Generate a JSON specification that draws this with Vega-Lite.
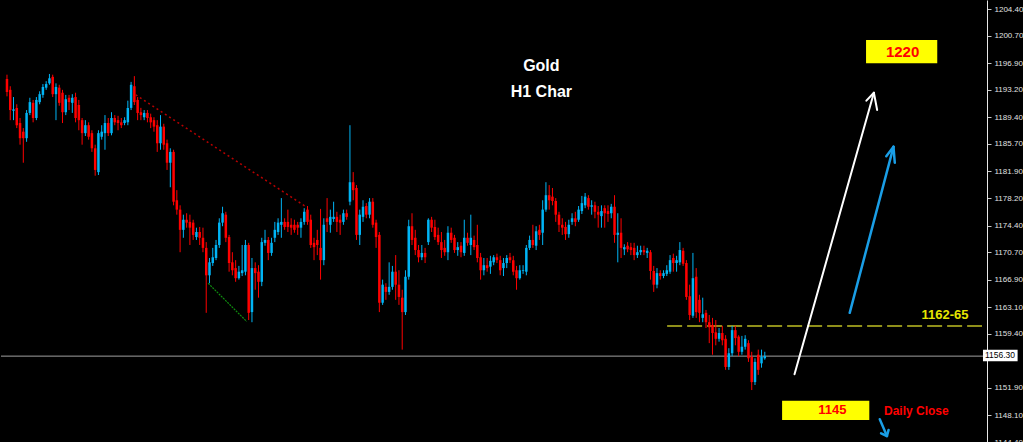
{
"$schema":"https://vega.github.io/schema/vega-lite/v6.json",
"background":"#000000",
"padding":0,
"autosize":{"type":"pad"},
"width":986,
"height":442,
"config":{"view":{"stroke":null},"axis":{"labelOverlap":false,"labelFlush":false,"labelBound":false}},
"datasets":{
"candles":[
{"t":0,"o":1194.7,"h":1195.3,"l":1192.3,"c":1192.9},
{"t":1,"o":1193.2,"h":1193.7,"l":1189.0,"c":1190.4},
{"t":2,"o":1190.3,"h":1192.2,"l":1189.0,"c":1190.5},
{"t":3,"o":1190.7,"h":1191.2,"l":1187.9,"c":1188.3},
{"t":4,"o":1188.6,"h":1189.3,"l":1185.6,"c":1186.5},
{"t":5,"o":1187.4,"h":1187.9,"l":1183.1,"c":1186.5},
{"t":6,"o":1186.5,"h":1190.4,"l":1186.0,"c":1190.0},
{"t":7,"o":1190.0,"h":1192.1,"l":1189.7,"c":1191.5},
{"t":8,"o":1191.4,"h":1191.8,"l":1188.7,"c":1189.3},
{"t":9,"o":1189.3,"h":1192.2,"l":1189.0,"c":1191.8},
{"t":10,"o":1191.5,"h":1193.0,"l":1191.2,"c":1192.6},
{"t":11,"o":1192.5,"h":1194.0,"l":1192.1,"c":1193.6},
{"t":12,"o":1193.5,"h":1194.4,"l":1193.2,"c":1194.0},
{"t":13,"o":1194.1,"h":1195.4,"l":1193.9,"c":1194.8},
{"t":14,"o":1195.0,"h":1195.3,"l":1192.2,"c":1192.6},
{"t":15,"o":1192.6,"h":1194.1,"l":1189.0,"c":1193.6},
{"t":16,"o":1193.5,"h":1193.9,"l":1191.0,"c":1191.4},
{"t":17,"o":1192.8,"h":1193.2,"l":1188.6,"c":1190.1},
{"t":18,"o":1190.1,"h":1192.5,"l":1189.7,"c":1191.9},
{"t":19,"o":1192.1,"h":1192.5,"l":1190.4,"c":1191.5},
{"t":20,"o":1191.4,"h":1192.6,"l":1190.0,"c":1192.1},
{"t":21,"o":1192.2,"h":1192.8,"l":1188.7,"c":1189.3},
{"t":22,"o":1191.1,"h":1191.8,"l":1187.6,"c":1189.0},
{"t":23,"o":1189.0,"h":1189.3,"l":1185.6,"c":1187.2},
{"t":24,"o":1187.2,"h":1189.0,"l":1186.8,"c":1188.3},
{"t":25,"o":1188.3,"h":1188.7,"l":1186.3,"c":1186.7},
{"t":26,"o":1187.2,"h":1187.6,"l":1184.6,"c":1185.1},
{"t":27,"o":1185.1,"h":1185.6,"l":1181.3,"c":1182.1},
{"t":28,"o":1181.8,"h":1187.6,"l":1181.4,"c":1187.2},
{"t":29,"o":1186.7,"h":1188.3,"l":1186.3,"c":1187.4},
{"t":30,"o":1187.2,"h":1189.7,"l":1184.9,"c":1188.6},
{"t":31,"o":1188.6,"h":1189.3,"l":1186.8,"c":1187.2},
{"t":32,"o":1187.2,"h":1190.1,"l":1186.9,"c":1189.3},
{"t":33,"o":1189.3,"h":1189.7,"l":1188.3,"c":1188.7},
{"t":34,"o":1189.0,"h":1189.6,"l":1187.6,"c":1188.6},
{"t":35,"o":1188.7,"h":1189.3,"l":1187.9,"c":1188.3},
{"t":36,"o":1188.6,"h":1189.4,"l":1188.3,"c":1189.0},
{"t":37,"o":1188.7,"h":1191.7,"l":1188.3,"c":1190.7},
{"t":38,"o":1190.7,"h":1194.3,"l":1190.4,"c":1193.9},
{"t":39,"o":1193.7,"h":1195.1,"l":1191.1,"c":1191.5},
{"t":40,"o":1191.8,"h":1192.2,"l":1189.0,"c":1190.0},
{"t":41,"o":1190.1,"h":1190.7,"l":1189.0,"c":1189.7},
{"t":42,"o":1189.4,"h":1190.4,"l":1189.0,"c":1190.0},
{"t":43,"o":1190.0,"h":1190.4,"l":1188.7,"c":1189.3},
{"t":44,"o":1189.4,"h":1189.9,"l":1187.9,"c":1188.7},
{"t":45,"o":1189.0,"h":1189.4,"l":1187.4,"c":1188.1},
{"t":46,"o":1188.3,"h":1189.0,"l":1184.6,"c":1185.8},
{"t":47,"o":1185.8,"h":1189.7,"l":1184.9,"c":1188.1},
{"t":48,"o":1188.1,"h":1188.5,"l":1184.9,"c":1185.6},
{"t":49,"o":1185.8,"h":1186.3,"l":1182.1,"c":1183.1},
{"t":50,"o":1183.1,"h":1185.1,"l":1179.7,"c":1184.6},
{"t":51,"o":1184.6,"h":1184.9,"l":1177.2,"c":1177.7},
{"t":52,"o":1177.9,"h":1179.3,"l":1175.9,"c":1176.6},
{"t":53,"o":1176.6,"h":1177.2,"l":1170.7,"c":1173.8},
{"t":54,"o":1173.8,"h":1175.9,"l":1172.7,"c":1175.2},
{"t":55,"o":1175.2,"h":1176.1,"l":1174.1,"c":1174.8},
{"t":56,"o":1174.9,"h":1175.9,"l":1171.7,"c":1174.1},
{"t":57,"o":1174.8,"h":1175.2,"l":1172.4,"c":1173.1},
{"t":58,"o":1172.8,"h":1174.1,"l":1172.4,"c":1173.5},
{"t":59,"o":1173.5,"h":1174.2,"l":1171.7,"c":1172.7},
{"t":60,"o":1172.7,"h":1174.1,"l":1170.7,"c":1171.3},
{"t":61,"o":1171.3,"h":1172.1,"l":1162.3,"c":1167.5},
{"t":62,"o":1167.5,"h":1169.9,"l":1166.4,"c":1169.3},
{"t":63,"o":1169.2,"h":1171.3,"l":1168.8,"c":1170.0},
{"t":64,"o":1169.9,"h":1172.4,"l":1169.6,"c":1171.7},
{"t":65,"o":1171.7,"h":1175.4,"l":1171.3,"c":1174.8},
{"t":66,"o":1174.8,"h":1177.0,"l":1174.3,"c":1176.1},
{"t":67,"o":1175.9,"h":1176.3,"l":1172.1,"c":1172.7},
{"t":68,"o":1172.8,"h":1173.1,"l":1168.0,"c":1169.2},
{"t":69,"o":1169.3,"h":1170.7,"l":1167.5,"c":1168.2},
{"t":70,"o":1168.5,"h":1169.6,"l":1166.6,"c":1167.1},
{"t":71,"o":1167.1,"h":1168.8,"l":1166.9,"c":1168.0},
{"t":72,"o":1167.8,"h":1171.7,"l":1167.4,"c":1168.2},
{"t":73,"o":1168.0,"h":1172.4,"l":1167.5,"c":1171.7},
{"t":74,"o":1171.7,"h":1172.0,"l":1161.3,"c":1162.3},
{"t":75,"o":1162.4,"h":1169.9,"l":1161.0,"c":1168.5},
{"t":76,"o":1168.5,"h":1169.3,"l":1165.5,"c":1167.8},
{"t":77,"o":1168.0,"h":1168.9,"l":1164.4,"c":1166.6},
{"t":78,"o":1166.6,"h":1172.7,"l":1166.0,"c":1172.1},
{"t":79,"o":1172.0,"h":1173.8,"l":1171.6,"c":1172.4},
{"t":80,"o":1172.4,"h":1172.8,"l":1169.6,"c":1170.6},
{"t":81,"o":1170.6,"h":1172.7,"l":1170.2,"c":1172.0},
{"t":82,"o":1172.7,"h":1174.9,"l":1172.1,"c":1173.8},
{"t":83,"o":1173.5,"h":1175.4,"l":1173.1,"c":1174.8},
{"t":84,"o":1174.5,"h":1178.2,"l":1172.7,"c":1174.9},
{"t":85,"o":1174.9,"h":1175.4,"l":1173.8,"c":1174.2},
{"t":86,"o":1174.9,"h":1176.6,"l":1173.5,"c":1174.2},
{"t":87,"o":1174.5,"h":1175.4,"l":1173.1,"c":1174.1},
{"t":88,"o":1174.5,"h":1175.2,"l":1173.4,"c":1173.8},
{"t":89,"o":1174.5,"h":1174.9,"l":1173.1,"c":1174.1},
{"t":90,"o":1174.1,"h":1175.4,"l":1172.7,"c":1174.9},
{"t":91,"o":1174.9,"h":1176.8,"l":1174.5,"c":1176.3},
{"t":92,"o":1176.6,"h":1177.1,"l":1174.5,"c":1174.9},
{"t":93,"o":1175.2,"h":1175.9,"l":1171.3,"c":1171.7},
{"t":94,"o":1172.0,"h":1172.7,"l":1169.6,"c":1171.4},
{"t":95,"o":1172.4,"h":1173.8,"l":1170.3,"c":1171.7},
{"t":96,"o":1171.3,"h":1176.7,"l":1166.9,"c":1169.6},
{"t":97,"o":1169.6,"h":1175.4,"l":1168.9,"c":1174.5},
{"t":98,"o":1175.4,"h":1178.2,"l":1173.5,"c":1174.9},
{"t":99,"o":1174.5,"h":1176.6,"l":1173.4,"c":1175.6},
{"t":100,"o":1175.3,"h":1177.7,"l":1174.9,"c":1175.6},
{"t":101,"o":1175.6,"h":1176.3,"l":1173.5,"c":1174.9},
{"t":102,"o":1175.2,"h":1175.9,"l":1173.1,"c":1174.8},
{"t":103,"o":1174.9,"h":1176.6,"l":1174.5,"c":1176.1},
{"t":104,"o":1176.1,"h":1176.6,"l":1175.2,"c":1175.6},
{"t":105,"o":1177.7,"h":1188.3,"l":1177.2,"c":1180.4},
{"t":106,"o":1180.4,"h":1181.8,"l":1177.9,"c":1179.3},
{"t":107,"o":1179.6,"h":1180.0,"l":1172.4,"c":1173.1},
{"t":108,"o":1173.1,"h":1176.6,"l":1171.7,"c":1175.9},
{"t":109,"o":1175.6,"h":1177.9,"l":1174.9,"c":1177.0},
{"t":110,"o":1177.1,"h":1177.5,"l":1175.4,"c":1175.9},
{"t":111,"o":1175.9,"h":1178.2,"l":1175.4,"c":1177.7},
{"t":112,"o":1177.7,"h":1178.2,"l":1174.1,"c":1174.5},
{"t":113,"o":1174.8,"h":1175.2,"l":1171.3,"c":1172.8},
{"t":114,"o":1173.1,"h":1173.5,"l":1162.4,"c":1163.7},
{"t":115,"o":1163.7,"h":1166.9,"l":1163.4,"c":1166.2},
{"t":116,"o":1165.9,"h":1166.4,"l":1164.1,"c":1165.2},
{"t":117,"o":1165.2,"h":1169.3,"l":1164.8,"c":1165.9},
{"t":118,"o":1165.9,"h":1168.8,"l":1165.5,"c":1168.0},
{"t":119,"o":1168.0,"h":1170.3,"l":1164.1,"c":1166.2},
{"t":120,"o":1166.2,"h":1168.2,"l":1163.4,"c":1164.5},
{"t":121,"o":1164.4,"h":1165.5,"l":1157.2,"c":1162.4},
{"t":122,"o":1162.4,"h":1168.2,"l":1162.0,"c":1167.3},
{"t":123,"o":1167.3,"h":1175.2,"l":1166.9,"c":1174.3},
{"t":124,"o":1174.3,"h":1176.1,"l":1171.7,"c":1172.4},
{"t":125,"o":1172.7,"h":1173.8,"l":1170.3,"c":1171.0},
{"t":126,"o":1171.0,"h":1171.7,"l":1169.3,"c":1170.0},
{"t":127,"o":1170.0,"h":1171.7,"l":1169.6,"c":1170.6},
{"t":128,"o":1170.6,"h":1171.3,"l":1169.2,"c":1170.0},
{"t":129,"o":1172.1,"h":1175.4,"l":1171.7,"c":1175.2},
{"t":130,"o":1175.2,"h":1175.6,"l":1173.5,"c":1174.1},
{"t":131,"o":1174.2,"h":1175.2,"l":1172.4,"c":1172.8},
{"t":132,"o":1173.1,"h":1174.1,"l":1171.7,"c":1172.1},
{"t":133,"o":1172.1,"h":1173.5,"l":1169.9,"c":1171.0},
{"t":134,"o":1171.3,"h":1172.4,"l":1170.2,"c":1170.7},
{"t":135,"o":1170.7,"h":1174.3,"l":1169.6,"c":1173.4},
{"t":136,"o":1173.4,"h":1174.1,"l":1172.0,"c":1172.4},
{"t":137,"o":1172.7,"h":1173.1,"l":1170.6,"c":1171.0},
{"t":138,"o":1171.0,"h":1172.1,"l":1170.2,"c":1171.4},
{"t":139,"o":1171.6,"h":1172.1,"l":1170.0,"c":1170.7},
{"t":140,"o":1170.6,"h":1175.2,"l":1170.2,"c":1172.7},
{"t":141,"o":1172.7,"h":1173.4,"l":1171.6,"c":1172.0},
{"t":142,"o":1171.7,"h":1175.9,"l":1170.3,"c":1172.7},
{"t":143,"o":1172.4,"h":1173.0,"l":1171.0,"c":1171.4},
{"t":144,"o":1171.7,"h":1174.5,"l":1169.3,"c":1169.9},
{"t":145,"o":1170.0,"h":1170.6,"l":1166.9,"c":1168.2},
{"t":146,"o":1168.2,"h":1169.9,"l":1167.5,"c":1168.9},
{"t":147,"o":1168.9,"h":1169.9,"l":1168.0,"c":1168.5},
{"t":148,"o":1168.7,"h":1170.2,"l":1167.7,"c":1169.5},
{"t":149,"o":1169.3,"h":1170.3,"l":1168.9,"c":1170.0},
{"t":150,"o":1170.0,"h":1170.5,"l":1169.2,"c":1169.6},
{"t":151,"o":1169.6,"h":1170.2,"l":1167.5,"c":1168.2},
{"t":152,"o":1168.5,"h":1169.9,"l":1167.4,"c":1169.2},
{"t":153,"o":1169.2,"h":1170.3,"l":1168.5,"c":1169.9},
{"t":154,"o":1170.0,"h":1170.6,"l":1169.2,"c":1169.6},
{"t":155,"o":1169.6,"h":1170.2,"l":1167.5,"c":1168.0},
{"t":156,"o":1168.2,"h":1168.8,"l":1165.5,"c":1167.1},
{"t":157,"o":1167.1,"h":1168.9,"l":1166.9,"c":1168.2},
{"t":158,"o":1168.1,"h":1168.9,"l":1167.7,"c":1168.2},
{"t":159,"o":1168.0,"h":1171.7,"l":1167.5,"c":1171.3},
{"t":160,"o":1171.3,"h":1173.0,"l":1171.0,"c":1172.4},
{"t":161,"o":1172.4,"h":1174.5,"l":1171.3,"c":1171.7},
{"t":162,"o":1171.6,"h":1174.3,"l":1171.0,"c":1173.6},
{"t":163,"o":1173.8,"h":1174.5,"l":1172.4,"c":1173.1},
{"t":164,"o":1173.4,"h":1177.9,"l":1171.7,"c":1176.6},
{"t":165,"o":1176.6,"h":1180.4,"l":1176.3,"c":1178.6},
{"t":166,"o":1178.6,"h":1180.0,"l":1176.6,"c":1177.9},
{"t":167,"o":1178.4,"h":1179.6,"l":1177.2,"c":1177.8},
{"t":168,"o":1177.8,"h":1178.2,"l":1174.9,"c":1175.9},
{"t":169,"o":1175.9,"h":1176.3,"l":1173.5,"c":1174.5},
{"t":170,"o":1174.5,"h":1175.4,"l":1173.1,"c":1174.1},
{"t":171,"o":1174.2,"h":1174.9,"l":1172.4,"c":1173.2},
{"t":172,"o":1173.2,"h":1175.2,"l":1172.7,"c":1174.5},
{"t":173,"o":1174.9,"h":1176.1,"l":1174.5,"c":1175.4},
{"t":174,"o":1175.4,"h":1176.3,"l":1174.3,"c":1174.9},
{"t":175,"o":1175.2,"h":1177.1,"l":1174.9,"c":1176.6},
{"t":176,"o":1176.4,"h":1178.5,"l":1176.0,"c":1177.5},
{"t":177,"o":1177.2,"h":1178.9,"l":1176.8,"c":1178.4},
{"t":178,"o":1178.2,"h":1178.6,"l":1176.6,"c":1177.0},
{"t":179,"o":1177.0,"h":1177.9,"l":1175.9,"c":1177.2},
{"t":180,"o":1177.2,"h":1177.7,"l":1175.4,"c":1176.3},
{"t":181,"o":1176.3,"h":1177.1,"l":1174.1,"c":1175.9},
{"t":182,"o":1175.7,"h":1177.2,"l":1174.1,"c":1176.4},
{"t":183,"o":1176.8,"h":1177.2,"l":1174.1,"c":1176.1},
{"t":184,"o":1176.4,"h":1177.2,"l":1174.9,"c":1176.0},
{"t":185,"o":1176.1,"h":1177.4,"l":1175.4,"c":1177.0},
{"t":186,"o":1177.0,"h":1178.6,"l":1172.0,"c":1173.1},
{"t":187,"o":1173.1,"h":1176.1,"l":1169.3,"c":1173.4},
{"t":188,"o":1173.4,"h":1175.4,"l":1169.9,"c":1171.3},
{"t":189,"o":1171.1,"h":1171.8,"l":1170.3,"c":1171.4},
{"t":190,"o":1171.6,"h":1172.1,"l":1170.7,"c":1171.1},
{"t":191,"o":1171.4,"h":1172.0,"l":1170.3,"c":1171.0},
{"t":192,"o":1171.3,"h":1172.0,"l":1169.6,"c":1170.3},
{"t":193,"o":1170.3,"h":1171.6,"l":1169.9,"c":1170.7},
{"t":194,"o":1170.7,"h":1171.6,"l":1170.3,"c":1171.0},
{"t":195,"o":1171.0,"h":1171.6,"l":1170.3,"c":1170.7},
{"t":196,"o":1170.6,"h":1171.3,"l":1169.9,"c":1170.9},
{"t":197,"o":1170.7,"h":1171.0,"l":1166.9,"c":1168.1},
{"t":198,"o":1168.1,"h":1168.8,"l":1165.2,"c":1166.2},
{"t":199,"o":1166.2,"h":1168.5,"l":1165.7,"c":1167.8},
{"t":200,"o":1167.8,"h":1168.2,"l":1166.9,"c":1167.4},
{"t":201,"o":1167.4,"h":1168.2,"l":1167.1,"c":1167.8},
{"t":202,"o":1167.7,"h":1168.9,"l":1167.4,"c":1168.2},
{"t":203,"o":1168.0,"h":1170.3,"l":1167.7,"c":1169.6},
{"t":204,"o":1169.9,"h":1170.5,"l":1168.0,"c":1169.2},
{"t":205,"o":1169.2,"h":1170.2,"l":1168.0,"c":1169.6},
{"t":206,"o":1169.3,"h":1172.1,"l":1168.9,"c":1171.0},
{"t":207,"o":1170.9,"h":1171.3,"l":1168.8,"c":1169.1},
{"t":208,"o":1169.2,"h":1169.6,"l":1164.1,"c":1164.5},
{"t":209,"o":1164.6,"h":1166.2,"l":1161.3,"c":1162.0},
{"t":210,"o":1161.9,"h":1170.6,"l":1161.6,"c":1167.1},
{"t":211,"o":1167.3,"h":1168.5,"l":1161.6,"c":1162.4},
{"t":212,"o":1164.1,"h":1164.8,"l":1161.0,"c":1162.3},
{"t":213,"o":1161.6,"h":1164.4,"l":1161.0,"c":1162.1},
{"t":214,"o":1162.3,"h":1162.7,"l":1160.2,"c":1161.0},
{"t":215,"o":1161.0,"h":1162.0,"l":1158.1,"c":1160.3},
{"t":216,"o":1160.6,"h":1161.6,"l":1156.5,"c":1159.5},
{"t":217,"o":1159.6,"h":1161.3,"l":1157.8,"c":1158.7},
{"t":218,"o":1158.7,"h":1160.2,"l":1158.3,"c":1159.5},
{"t":219,"o":1159.5,"h":1160.5,"l":1157.8,"c":1158.5},
{"t":220,"o":1158.7,"h":1159.2,"l":1154.4,"c":1154.8},
{"t":221,"o":1154.8,"h":1157.4,"l":1154.4,"c":1156.7},
{"t":222,"o":1156.7,"h":1160.5,"l":1156.3,"c":1159.9},
{"t":223,"o":1159.9,"h":1160.5,"l":1157.8,"c":1158.8},
{"t":224,"o":1159.0,"h":1159.2,"l":1156.3,"c":1156.9},
{"t":225,"o":1156.9,"h":1159.1,"l":1156.5,"c":1157.6},
{"t":226,"o":1157.6,"h":1159.2,"l":1157.2,"c":1158.7},
{"t":227,"o":1158.1,"h":1158.5,"l":1155.5,"c":1156.0},
{"t":228,"o":1156.2,"h":1156.9,"l":1151.6,"c":1152.7},
{"t":229,"o":1152.7,"h":1156.0,"l":1152.3,"c":1155.5},
{"t":230,"o":1156.5,"h":1157.2,"l":1153.7,"c":1154.4},
{"t":231,"o":1155.3,"h":1157.2,"l":1154.7,"c":1156.2},
{"t":232,"o":1156.0,"h":1156.9,"l":1155.8,"c":1156.3}
],
"segs":[
{"k":"red","x":39.4,"y":1192.5,"x2":91.2,"y2":1177.1},
{"k":"green","x":61.6,"y":1166.4,"x2":73.4,"y2":1161.1},
{"k":"white","x":241.1,"y":1153.8,"x2":265.4,"y2":1192.8},
{"k":"white","x":263.1,"y":1191.7,"x2":265.4,"y2":1192.8},
{"k":"white","x":266.4,"y":1190.4,"x2":265.4,"y2":1192.8},
{"k":"blue","x":258.0,"y":1162.3,"x2":271.4,"y2":1185.3},
{"k":"blue","x":269.2,"y":1184.0,"x2":271.4,"y2":1185.3},
{"k":"blue","x":271.8,"y":1183.1,"x2":271.4,"y2":1185.3},
{"k":"blue","x":267.2,"y":1147.55,"x2":269.4,"y2":1145.23},
{"k":"blue","x":267.6,"y":1145.6,"x2":269.4,"y2":1145.23},
{"k":"blue","x":269.9,"y":1146.07,"x2":269.4,"y2":1145.23}
],
"boxes":[
{"id":"b1220","x":263.0,"x2":284.8,"y":1200.1,"y2":1196.9},
{"id":"b1145","x":237.3,"x2":264.0,"y":1150.1,"y2":1147.45},
{"id":"blast","x":298.8,"x2":309.4,"y":1157.2,"y2":1155.6}
],
"notes":[
{"id":"gold","label":"Gold","x":163.6,"y":1196.5},
{"id":"h1","label":"H1 Char","x":163.6,"y":1192.9},
{"id":"t1220","label":"1220","x":274.2,"y":1198.45},
{"id":"t1145","label":"1145","x":252.7,"y":1148.8},
{"id":"daily","label":"Daily Close","x":268.5,"y":1148.7},
{"id":"lvl","label":"1162-65","x":280.0,"y":1162.0},
{"id":"last","label":"1156.30","x":299.4,"y":1156.4}
]
},
"layer":[
{
"data":{"values":[{"p":1156.3}]},
"mark":{"type":"rule","color":"#a0a0a0","strokeWidth":1},
"encoding":{"y":{"field":"p","type":"quantitative","scale":{"domain":[1144.4,1205.65],"nice":false,"zero":false},
"axis":{"orient":"right","values":[1144.4,1148.1,1151.9,1159.4,1163.1,1166.9,1170.7,1174.4,1178.2,1181.9,1185.7,1189.4,1193.2,1196.9,1200.7,1204.4],"tickCount":30,"format":".2f","labelColor":"#e0e0e0","labelFont":"Liberation Sans","labelFontSize":8,"labelOverlap":false,"labelFlush":false,"tickColor":"#c8c8c8","tickSize":4,"domainColor":"#e8e8e8","grid":false,"title":null,"labelPadding":3}}}
},
{
"data":{"values":[{"x":202.1,"x2":298.5,"y":1160.48}]},
"mark":{"type":"rule","color":"#8f8f1a","strokeWidth":2,"strokeDash":[15,5]},
"encoding":{
"x":{"field":"x","type":"quantitative","scale":{"domain":[-0.3,298.5],"nice":false,"zero":false},"axis":null},
"x2":{"field":"x2"},
"y":{"field":"y","type":"quantitative","scale":{"domain":[1144.4,1205.65],"nice":false,"zero":false}}}
},
{
"data":{"name":"candles"},
"mark":{"type":"rule","strokeWidth":1},
"encoding":{
"x":{"field":"t","type":"quantitative","scale":{"domain":[-0.3,298.5],"nice":false,"zero":false},"axis":null},
"y":{"field":"l","type":"quantitative","scale":{"domain":[1144.4,1205.65],"nice":false,"zero":false}},
"y2":{"field":"h"},
"color":{"condition":{"test":"datum.c < datum.o","value":"#ff0000"},"value":"#00b4f5"}}
},
{
"data":{"name":"candles"},
"mark":{"type":"bar","size":2.5},
"encoding":{
"x":{"field":"t","type":"quantitative","scale":{"domain":[-0.3,298.5],"nice":false,"zero":false},"axis":null},
"y":{"field":"o","type":"quantitative","scale":{"domain":[1144.4,1205.65],"nice":false,"zero":false}},
"y2":{"field":"c"},
"color":{"condition":{"test":"datum.c < datum.o","value":"#ff0000"},"value":"#00b4f5"}}
},
{
"data":{"name":"segs"},
"transform":[{"filter":"datum.k == 'red'"}],
"mark":{"type":"rule","color":"#b80000","stroke":"#b80000","strokeWidth":1.5,"strokeDash":[2,3]},
"encoding":{"x":{"field":"x","type":"quantitative"},"x2":{"field":"x2"},"y":{"field":"y","type":"quantitative"},"y2":{"field":"y2"}}
},
{
"data":{"name":"segs"},
"transform":[{"filter":"datum.k == 'green'"}],
"mark":{"type":"rule","color":"#0f8c0f","stroke":"#0f8c0f","strokeWidth":1.2,"strokeDash":[2,1]},
"encoding":{"x":{"field":"x","type":"quantitative"},"x2":{"field":"x2"},"y":{"field":"y","type":"quantitative"},"y2":{"field":"y2"}}
},
{
"data":{"name":"segs"},
"transform":[{"filter":"datum.k == 'white'"}],
"mark":{"type":"rule","color":"#ffffff","stroke":"#ffffff","strokeWidth":2,"strokeCap":"round"},
"encoding":{"x":{"field":"x","type":"quantitative"},"x2":{"field":"x2"},"y":{"field":"y","type":"quantitative"},"y2":{"field":"y2"}}
},
{
"data":{"name":"segs"},
"transform":[{"filter":"datum.k == 'blue'"}],
"mark":{"type":"rule","color":"#1a9ee6","stroke":"#1a9ee6","strokeWidth":2.5,"strokeCap":"round"},
"encoding":{"x":{"field":"x","type":"quantitative"},"x2":{"field":"x2"},"y":{"field":"y","type":"quantitative"},"y2":{"field":"y2"}}
},
{
"data":{"name":"boxes"},
"mark":{"type":"rect"},
"encoding":{"x":{"field":"x","type":"quantitative"},"x2":{"field":"x2"},"y":{"field":"y","type":"quantitative"},"y2":{"field":"y2"},
"color":{"field":"id","type":"nominal","scale":{"domain":["b1220","b1145","blast"],"range":["#ffff00","#ffff00","#ffffff"]},"legend":null}}
},
{
"data":{"name":"notes"},
"transform":[{"filter":"datum.id == 'gold' || datum.id == 'h1'"}],
"mark":{"type":"text","color":"#ffffff","font":"Liberation Sans","fontWeight":"bold","fontSize":16,"align":"center","baseline":"middle"},
"encoding":{"x":{"field":"x","type":"quantitative"},"y":{"field":"y","type":"quantitative"},"text":{"field":"label"}}
},
{
"data":{"name":"notes"},
"transform":[{"filter":"datum.id == 't1220'"}],
"mark":{"type":"text","color":"#ff0000","font":"Liberation Sans","fontWeight":"bold","fontSize":15,"align":"center","baseline":"middle"},
"encoding":{"x":{"field":"x","type":"quantitative"},"y":{"field":"y","type":"quantitative"},"text":{"field":"label"}}
},
{
"data":{"name":"notes"},
"transform":[{"filter":"datum.id == 't1145'"}],
"mark":{"type":"text","color":"#ff0000","font":"Liberation Sans","fontWeight":"bold","fontSize":13,"align":"center","baseline":"middle"},
"encoding":{"x":{"field":"x","type":"quantitative"},"y":{"field":"y","type":"quantitative"},"text":{"field":"label"}}
},
{
"data":{"name":"notes"},
"transform":[{"filter":"datum.id == 'daily'"}],
"mark":{"type":"text","color":"#ff0000","font":"Liberation Sans","fontWeight":"bold","fontSize":12,"align":"left","baseline":"middle"},
"encoding":{"x":{"field":"x","type":"quantitative"},"y":{"field":"y","type":"quantitative"},"text":{"field":"label"}}
},
{
"data":{"name":"notes"},
"transform":[{"filter":"datum.id == 'lvl'"}],
"mark":{"type":"text","color":"#e6e600","font":"Liberation Sans","fontWeight":"bold","fontSize":13,"align":"left","baseline":"middle"},
"encoding":{"x":{"field":"x","type":"quantitative"},"y":{"field":"y","type":"quantitative"},"text":{"field":"label"}}
},
{
"data":{"name":"notes"},
"transform":[{"filter":"datum.id == 'last'"}],
"mark":{"type":"text","color":"#000000","font":"Liberation Sans","fontSize":8.5,"align":"left","baseline":"middle"},
"encoding":{"x":{"field":"x","type":"quantitative"},"y":{"field":"y","type":"quantitative"},"text":{"field":"label"}}
}
]
}
